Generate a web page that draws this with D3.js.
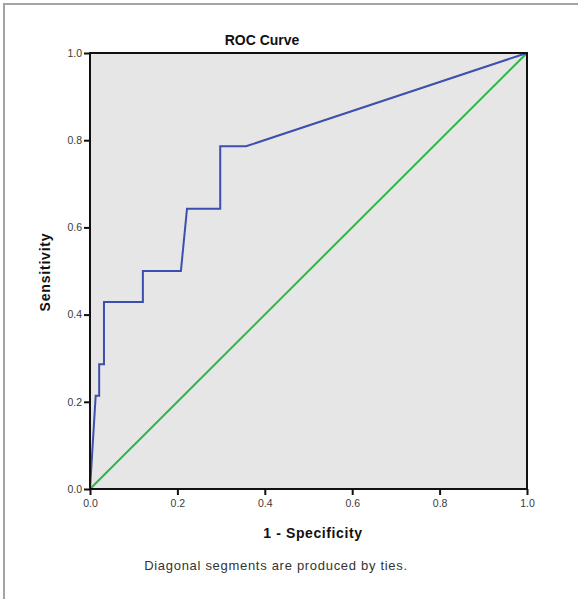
<!DOCTYPE html>
<html>
<head>
<meta charset="utf-8">
<script src="https://cdn.jsdelivr.net/npm/d3@7"></script>
<style>
  body { margin: 0; background: #fff; }
  svg { display: block; font-family: "Liberation Sans", Arial, sans-serif; }
</style>
</head>
<body>
<div id="chart"></div>
<script>
// ROC curve points (1 - specificity, sensitivity)
const fpr = [0, 0.013, 0.021, 0.021, 0.032, 0.032, 0.121, 0.121, 0.208, 0.222, 0.298, 0.298, 0.357, 1];
const tpr = [0, 0.214, 0.214, 0.286, 0.286, 0.429, 0.429, 0.500, 0.500, 0.643, 0.643, 0.786, 0.786, 1];
const refLine = [0, 1];
const tickValues = [0, 0.2, 0.4, 0.6, 0.8, 1.0];

const W = 578, H = 599;
const plot = { left: 90, top: 53, right: 527, bottom: 489 };

const svg = d3.select("#chart").append("svg")
    .attr("width", W)
    .attr("height", H);

// outer frame (gray lines top and left)
svg.append("line").attr("x1", 3).attr("x2", W).attr("y1", 4).attr("y2", 4)
    .attr("stroke", "#a3a3a3").attr("stroke-width", 2);
svg.append("line").attr("x1", 4).attr("x2", 4).attr("y1", 3).attr("y2", H)
    .attr("stroke", "#a3a3a3").attr("stroke-width", 2);

const x = d3.scaleLinear().domain([0, 1]).range([plot.left, plot.right]);
const y = d3.scaleLinear().domain([0, 1]).range([plot.bottom, plot.top]);

// plot background
svg.append("rect")
    .attr("x", x(0)).attr("y", y(1))
    .attr("width", x(1) - x(0)).attr("height", y(0) - y(1))
    .attr("fill", "#e6e6e6");

// reference diagonal
svg.append("line")
    .attr("x1", x(refLine[0])).attr("y1", y(refLine[0]))
    .attr("x2", x(refLine[1])).attr("y2", y(refLine[1]))
    .attr("stroke", "#2fb548").attr("stroke-width", 2);

// ROC curve
const pts = fpr.map((v, i) => [v, tpr[i]]);
svg.append("path")
    .datum(pts)
    .attr("fill", "none")
    .attr("stroke", "#3d4fae")
    .attr("stroke-width", 2)
    .attr("d", d3.line().x(d => x(d[0])).y(d => y(d[1])));

// plot border
svg.append("rect")
    .attr("x", x(0)).attr("y", y(1))
    .attr("width", x(1) - x(0)).attr("height", y(0) - y(1))
    .attr("fill", "none")
    .attr("stroke", "#111")
    .attr("stroke-width", 2);

// axes
const fmt = d3.format(".1f");
const xAxis = svg.append("g")
    .attr("transform", "translate(0," + plot.bottom + ")")
    .call(d3.axisBottom(x).tickValues(tickValues).tickFormat(fmt).tickSize(6).tickPadding(5));
const yAxis = svg.append("g")
    .attr("transform", "translate(" + plot.left + ",0)")
    .call(d3.axisLeft(y).tickValues(tickValues).tickFormat(fmt).tickSize(6).tickPadding(2));

[xAxis, yAxis].forEach(a => {
    a.select(".domain").remove();
    a.selectAll(".tick line").attr("stroke", "#111").attr("stroke-width", 2);
    a.selectAll(".tick text")
        .attr("fill", "#3a3a3a")
        .style("font-size", "10.5px")
        .style("font-family", "'Liberation Sans', Arial, sans-serif");
});

// title
svg.append("text")
    .attr("x", 262).attr("y", 45)
    .attr("text-anchor", "middle")
    .attr("font-size", "14px").attr("font-weight", "bold")
    .attr("fill", "#111")
    .text("ROC Curve");

// axis titles
svg.append("text")
    .attr("x", 313).attr("y", 538)
    .attr("text-anchor", "middle")
    .attr("font-size", "14px").attr("font-weight", "bold")
    .attr("letter-spacing", "0.6px")
    .attr("fill", "#111")
    .text("1 - Specificity");

svg.append("text")
    .attr("transform", "translate(50,272) rotate(-90)")
    .attr("text-anchor", "middle")
    .attr("font-size", "14px").attr("font-weight", "bold")
    .attr("letter-spacing", "0.8px")
    .attr("fill", "#111")
    .text("Sensitivity");

// footnote
svg.append("text")
    .attr("x", 276).attr("y", 570)
    .attr("text-anchor", "middle")
    .attr("font-size", "13px")
    .attr("letter-spacing", "0.7px")
    .attr("fill", "#333")
    .text("Diagonal segments are produced by ties.");
</script>
</body>
</html>
